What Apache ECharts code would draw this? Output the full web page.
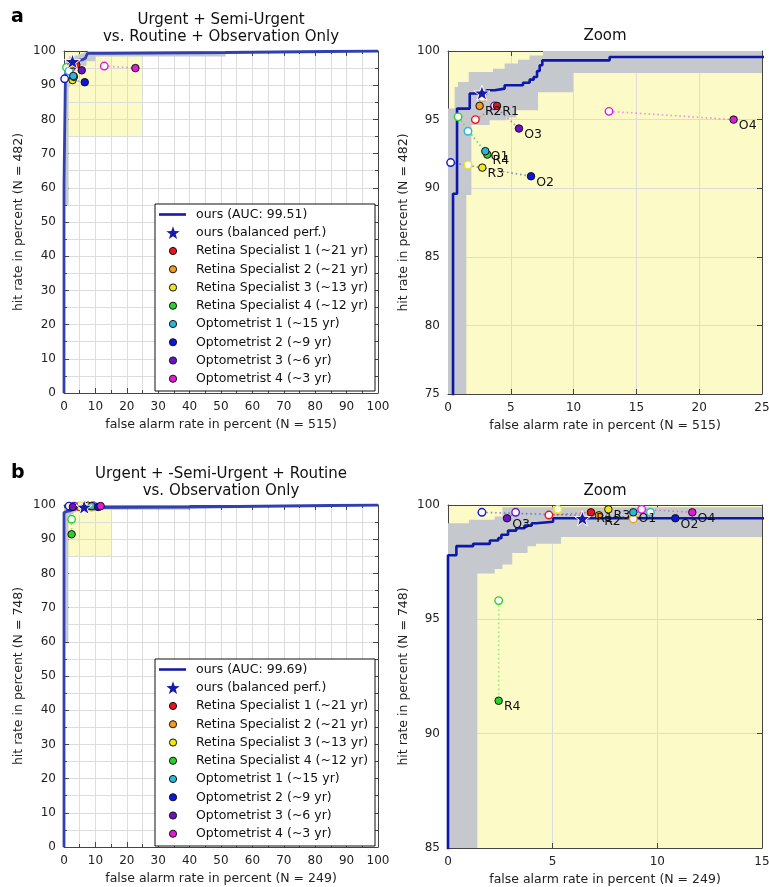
<!DOCTYPE html>
<html><head><meta charset="utf-8">
<script src="https://cdn.jsdelivr.net/npm/echarts/dist/echarts.min.js"></script>
<style>html,body{margin:0;padding:0;background:#fff}#c{width:769px;height:887px}</style>
</head><body><div id="c"></div>
<script>
const FONT = 'DejaVu Sans';

// ---- readers ----
const readerCodes = ['R1','R2','R3','R4','O1','O2','O3','O4'];
const readerNames = ['Retina Specialist 1 (~21 yr)','Retina Specialist 2 (~21 yr)','Retina Specialist 3 (~13 yr)','Retina Specialist 4 (~12 yr)','Optometrist 1 (~15 yr)','Optometrist 2 (~9 yr)','Optometrist 3 (~6 yr)','Optometrist 4 (~3 yr)'];
const readerColors = ['#e8141c','#f39c1e','#f0e61a','#2ad12a','#2bb7d9','#0b18d9','#6a12c7','#e11ad6'];

// ---- panel a ----
const titleA = 'Urgent + Semi-Urgent\nvs. Routine + Observation Only';
const aucA = '99.51';
const xNameA = 'false alarm rate in percent (N = 515)';
const yNameA = 'hit rate in percent (N = 482)';
const rocA = [[0,0],[0,61],[0.4,89.6],[0.72,95.8],[1.73,96.9],[3.05,97.14],[3.72,97.26],[4.51,97.5],[5.97,97.69],[6.5,97.91],[6.82,98.11],[7.09,98.54],[7.3,98.96],[7.51,99.32],[12.87,99.56],[51.5,100],[100,100]];
const ciUpperA = [[0,95.8],[0.53,97.38],[0.8,97.74],[1.65,98.47],[3.58,98.71],[4.51,99.08],[5.57,99.37],[6.5,99.68],[7.56,100],[100,100]];
const ciLowerA = [[0,0],[0,55],[1.46,89.5],[1.86,94.6],[3.32,94.95],[4.64,95.15],[5.44,95.68],[7.17,97.0],[9.95,98.4],[51.5,100],[100,100]];
const filledA = [[3.9,96.0],[2.52,96.0],[2.73,91.5],[3.13,92.45],[2.97,92.7],[6.61,90.87],[5.65,94.35],[22.74,95.0]];
const openA = [[2.18,95.0],[2.73,96.6],[1.59,91.7],[0.8,95.2],[1.59,94.15],[0.21,91.87],[3.7,96.0],[12.82,95.6]];
const starA = [2.7,96.95];
const zoomBoxA = [0,25,75,100];

// ---- panel b ----
const titleB = 'Urgent + -Semi-Urgent + Routine\nvs. Observation Only';
const aucB = '99.69';
const xNameB = 'false alarm rate in percent (N = 249)';
const yNameB = 'hit rate in percent (N = 748)';
const rocB = [[0,0],[0,97.8],[0.4,98.2],[1.2,98.3],[2.0,98.45],[2.4,98.55],[2.55,98.7],[2.87,98.88],[3.26,98.98],[3.66,99.1],[4.0,99.2],[4.22,99.27],[5.02,99.42],[40,100],[100,100]];
const ciUpperB = [[0,99.2],[1.0,99.35],[2.23,99.5],[2.6,99.9],[40,100],[100,100]];
const ciLowerB = [[0,0],[0,60],[1.4,97.0],[2.23,97.2],[2.6,97.4],[3.07,97.9],[3.8,98.2],[4.2,98.3],[5.4,98.6],[40,100],[100,100]];
const filledB = [[6.83,99.68],[7.21,99.55],[7.66,99.81],[2.42,91.44],[8.85,99.68],[10.86,99.42],[2.82,99.42],[11.67,99.68]];
const openB = [[4.82,99.56],[8.85,99.39],[5.25,99.81],[2.42,95.82],[9.67,99.68],[1.62,99.68],[3.23,99.68],[9.25,99.81]];
const starB = [6.42,99.42];
const zoomBoxB = [0,15,85,100];

const fullRange = [0,100,0,100];

// ---- helpers ----
function starPath(){
  let d='';
  for(let i=0;i<10;i++){const r=i%2?0.4:1;const a=-Math.PI/2+i*Math.PI/5;d+=(i?'L':'M')+(r*Math.cos(a)).toFixed(3)+','+(r*Math.sin(a)).toFixed(3);}
  return 'path://'+d+'Z';
}
const STAR = starPath();
function stepVerts(pts){const v=[pts[0]];for(let i=1;i<pts.length;i++){v.push([pts[i][0],pts[i-1][1]]);v.push(pts[i]);}return v;}
const clamp=(v,a,b)=>Math.max(a,Math.min(b,v));

function xAx(gi,min,max,interval,minor,name,mirror,gap){
  return {type:'value',gridIndex:gi,min,max,interval,position:mirror?'top':'bottom',
    axisLine:{show:true,onZero:false,lineStyle:{color:'#444',width:1}},
    axisTick:{show:true,inside:true,length:5,lineStyle:{color:'#444'}},
    minorTick:{show:minor,splitNumber:2,length:3,lineStyle:{color:'#444'}},
    splitLine:{show:!mirror,lineStyle:{color:'#dcdcdc',width:1}},
    minorSplitLine:{show:minor&&!mirror,lineStyle:{color:'#dcdcdc',width:1}},
    axisLabel:{show:!mirror,fontSize:12,color:'#222',margin:8,fontFamily:FONT},
    name:mirror?'':name,nameLocation:'middle',nameGap:gap,nameTextStyle:{fontSize:12.5,color:'#222',fontFamily:FONT}};
}
function yAx(gi,min,max,interval,minor,name,mirror,gap){
  return {type:'value',gridIndex:gi,min,max,interval,position:mirror?'right':'left',
    axisLine:{show:true,onZero:false,lineStyle:{color:'#444',width:1}},
    axisTick:{show:true,inside:true,length:5,lineStyle:{color:'#444'}},
    minorTick:{show:minor,splitNumber:2,length:3,lineStyle:{color:'#444'}},
    splitLine:{show:!mirror,lineStyle:{color:'#dcdcdc',width:1}},
    minorSplitLine:{show:minor&&!mirror,lineStyle:{color:'#dcdcdc',width:1}},
    axisLabel:{show:!mirror,fontSize:12,color:'#222',margin:8,fontFamily:FONT},
    name:mirror?'':name,nameLocation:'middle',nameGap:gap,nameTextStyle:{fontSize:12.5,color:'#222',fontFamily:FONT}};
}

function panelSeries(gi,rng,box,roc,up,lo,filled,open,star,labels,rocColor,rocWidth){
  const S=[];
  const ax={xAxisIndex:gi,yAxisIndex:gi,silent:true,animation:false};
  S.push(Object.assign({type:'custom',z:-1,data:[box],renderItem:(p,api)=>{
    const a=api.coord([clamp(api.value(0),rng[0],rng[1]),clamp(api.value(3),rng[2],rng[3])]);
    const b=api.coord([clamp(api.value(1),rng[0],rng[1]),clamp(api.value(2),rng[2],rng[3])]);
    return {type:'rect',shape:{x:a[0],y:a[1],width:b[0]-a[0],height:b[1]-a[1]},style:{fill:'#fcfac6'}};
  }},ax));
  S.push(Object.assign({type:'custom',z:1,data:[[rng[0],rng[2]]],renderItem:(p,api)=>{
    const verts=stepVerts(up).concat(stepVerts(lo).reverse());
    const pts=verts.map(v=>api.coord([clamp(v[0],rng[0],rng[1]),clamp(v[1],rng[2],rng[3])]));
    return {type:'polygon',shape:{points:pts},style:{fill:'#c5c8cd'}};
  }},ax));
  S.push(Object.assign({type:'line',z:3,data:roc,step:'end',symbol:'none',lineStyle:{color:rocColor,width:rocWidth}},ax));
  readerCodes.forEach((c,i)=>{
    S.push(Object.assign({type:'line',z:4,data:[open[i],filled[i]],symbol:'none',
      lineStyle:{type:[1.6,2.8],width:1.6,color:readerColors[i],opacity:0.45}},ax));
  });
  S.push(Object.assign({type:'scatter',z:5,symbolSize:7.5,
    data:open.map((v,i)=>({value:v,itemStyle:{borderColor:readerColors[i]}})),
    itemStyle:{color:'#fff',borderWidth:1.4,opacity:1}},ax));
  S.push(Object.assign({type:'scatter',z:6,symbolSize:7.5,
    data:filled.map((v,i)=>({value:v,name:readerCodes[i],itemStyle:{color:readerColors[i]}})),
    itemStyle:{borderColor:'#111',borderWidth:1,opacity:1},
    label:{show:labels,formatter:'{b}',position:'right',distance:1,offset:[0,6],fontSize:12.5,color:'#111',fontFamily:FONT}},ax));
  S.push(Object.assign({type:'scatter',z:7,symbol:STAR,symbolKeepAspect:true,symbolSize:16,data:[star],
    itemStyle:{color:'#1a1aa8',borderColor:'#fff',borderWidth:1,opacity:1}},ax));
  return S;
}

function legendGraphic(x,y,auc){
  const ch=[{type:'rect',z:100,shape:{x:0,y:0,width:220,height:187},style:{fill:'#fff',stroke:'#111',lineWidth:1}}];
  const labels=['ours (AUC: '+auc+')','ours (balanced perf.)'].concat(readerNames);
  labels.forEach((t,i)=>{
    const cy=10.5+i*18.25;
    if(i===0){ch.push({type:'line',z:101,shape:{x1:4,y1:cy,x2:31,y2:cy},style:{stroke:'#1a1aa8',lineWidth:2.6}});}
    else if(i===1){
      const pts=[];for(let k=0;k<10;k++){const r=(k%2?0.4:1)*7;const a=-Math.PI/2+k*Math.PI/5;pts.push([18+r*Math.cos(a),cy+0.6+r*Math.sin(a)]);}
      ch.push({type:'polygon',z:101,shape:{points:pts},style:{fill:'#1a1aa8'}});
    } else {
      ch.push({type:'circle',z:101,shape:{cx:18,cy:cy,r:3.6},style:{fill:readerColors[i-2],stroke:'#111',lineWidth:1}});
    }
    ch.push({type:'text',z:101,x:41,y:cy,style:{text:t,fontSize:12.5,fontFamily:FONT,fill:'#111',verticalAlign:'middle',textVerticalAlign:'middle',align:'left'}});
  });
  return {type:'group',x:x,y:y,z:100,children:ch};
}

const tStyle={fontSize:15,lineHeight:17,fontWeight:'normal',color:'#111',fontFamily:FONT};
const option={
  animation:false,
  backgroundColor:'#fff',
  title:[
    {text:'a',left:11,top:7,padding:0,textStyle:{fontSize:19,lineHeight:20,fontWeight:'bold',color:'#000',fontFamily:FONT}},
    {text:titleA,left:221,top:12,padding:0,textAlign:'center',textStyle:tStyle},
    {text:'Zoom',left:605,top:28,padding:0,textAlign:'center',textStyle:tStyle},
    {text:'b',left:11,top:463,padding:0,textStyle:{fontSize:19,lineHeight:20,fontWeight:'bold',color:'#000',fontFamily:FONT}},
    {text:titleB,left:221,top:466,padding:0,textAlign:'center',textStyle:tStyle},
    {text:'Zoom',left:605,top:483,padding:0,textAlign:'center',textStyle:tStyle}
  ],
  grid:[
    {left:64,top:51,width:314,height:342,outerBoundsMode:'none'},
    {left:448,top:51,width:314,height:343,outerBoundsMode:'none'},
    {left:64,top:505,width:314,height:342,outerBoundsMode:'none'},
    {left:448,top:505,width:314,height:343,outerBoundsMode:'none'}
  ],
  xAxis:[
    xAx(0,0,100,10,true,xNameA,false,25),
    xAx(1,zoomBoxA[0],zoomBoxA[1],5,false,xNameA,false,25),
    xAx(2,0,100,10,true,xNameB,false,25.5),
    xAx(3,zoomBoxB[0],zoomBoxB[1],5,false,xNameB,false,25.5),
    xAx(0,0,100,10,true,'',true,0),
    xAx(1,zoomBoxA[0],zoomBoxA[1],5,false,'',true,0),
    xAx(2,0,100,10,true,'',true,0),
    xAx(3,zoomBoxB[0],zoomBoxB[1],5,false,'',true,0)
  ],
  yAxis:[
    yAx(0,0,100,10,true,yNameA,false,39),
    yAx(1,zoomBoxA[2],zoomBoxA[3],5,false,yNameA,false,38),
    yAx(2,0,100,10,true,yNameB,false,39),
    yAx(3,zoomBoxB[2],zoomBoxB[3],5,false,yNameB,false,38),
    yAx(0,0,100,10,true,'',true,0),
    yAx(1,zoomBoxA[2],zoomBoxA[3],5,false,'',true,0),
    yAx(2,0,100,10,true,'',true,0),
    yAx(3,zoomBoxB[2],zoomBoxB[3],5,false,'',true,0)
  ],
  graphic:[legendGraphic(155,204,aucA),legendGraphic(155,659,aucB)],
  series:[].concat(
    panelSeries(0,fullRange,zoomBoxA,rocA,ciUpperA,ciLowerA,filledA,openA,starA,false,'#3040b0',2.8),
    panelSeries(1,zoomBoxA,zoomBoxA,rocA,ciUpperA,ciLowerA,filledA,openA,starA,true,'#0d17a8',2.6),
    panelSeries(2,fullRange,zoomBoxB,rocB,ciUpperB,ciLowerB,filledB,openB,starB,false,'#3040b0',2.8),
    panelSeries(3,zoomBoxB,zoomBoxB,rocB,ciUpperB,ciLowerB,filledB,openB,starB,true,'#0d17a8',2.6)
  )
};
const chart=echarts.init(document.getElementById('c'),null,{renderer:'canvas'});
chart.setOption(option);
</script></body></html>
